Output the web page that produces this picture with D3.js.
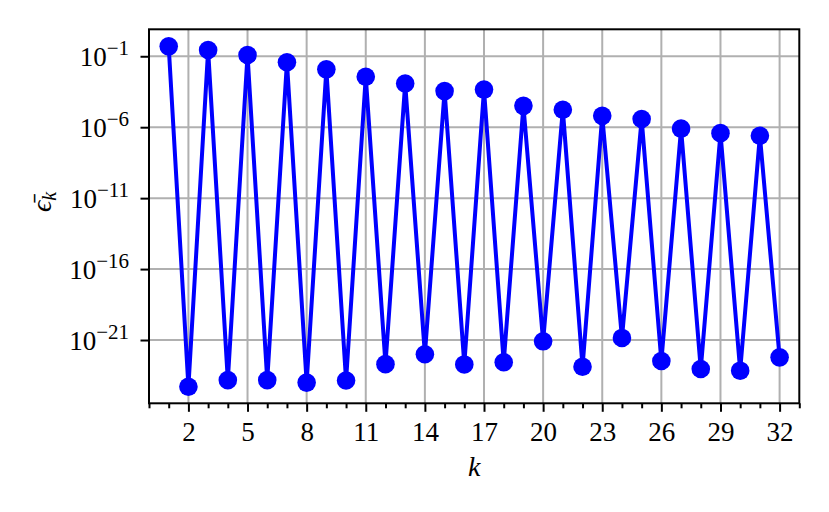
<!DOCTYPE html>
<html>
<head>
<meta charset="utf-8">
<script src="https://cdn.jsdelivr.net/npm/d3@7"></script>
<style>
  body { margin: 0; background: #fff; }
  svg text { font-family: "Liberation Serif", "DejaVu Serif", serif; fill: #000; }
</style>
</head>
<body>
<svg id="chart" width="829" height="512"></svg>
<script>
// k = 1 .. 32, mean error per step
const ks = d3.range(1, 33);
const errors = [
	5.0e-1, 5.1e-25, 2.75e-1, 1.5e-24, 1.23e-1, 1.5e-24, 3.8e-2, 1.0e-24,
	1.2e-2, 1.4e-24, 3.6e-3, 2.0e-23, 1.2e-3, 1.0e-22, 3.5e-4, 1.9e-23,
	4.5e-4, 2.7e-23, 3.2e-5, 8.1e-22, 1.7e-5, 1.3e-23, 6.3e-6, 1.4e-21,
	3.8e-6, 3.3e-23, 7.9e-7, 9.1e-24, 3.8e-7, 6.9e-24, 2.5e-7, 6.0e-23
];
const xTicks = [2, 5, 8, 11, 14, 17, 20, 23, 26, 29, 32];
const xMinorTicks = d3.range(0, 34).filter(k => !xTicks.includes(k));
const yTickExps = [-1, -6, -11, -16, -21];

const svg = d3.select("#chart");
const mLeft = 149, mRight = 799.3, mTop = 29.3, mBottom = 403.3;

const x = d3.scaleLinear().domain([0, 33]).range([mLeft, mRight]);
const y = d3.scaleLog().domain([Math.pow(10, -25.46), Math.pow(10, 0.9)]).range([mBottom, mTop]);

//grid
const grid = svg.append("g").attr("stroke", "#b0b0b0").attr("stroke-width", 2);
grid.selectAll("line.v").data(xTicks).enter().append("line")
	.attr("x1", d => x(d)).attr("x2", d => x(d))
	.attr("y1", mTop).attr("y2", mBottom);
grid.selectAll("line.h").data(yTickExps).enter().append("line")
	.attr("x1", mLeft).attr("x2", mRight)
	.attr("y1", d => y(Math.pow(10, d))).attr("y2", d => y(Math.pow(10, d)));

//axes
const xAxis = svg.append("g")
	.attr("transform", `translate(0,${mBottom})`)
	.call(d3.axisBottom(x).tickValues(xTicks).tickSize(8.5).tickPadding(8).tickSizeOuter(0));
svg.append("g")
	.attr("transform", `translate(0,${mBottom})`)
	.call(d3.axisBottom(x).tickValues(xMinorTicks).tickSize(5).tickFormat("").tickSizeOuter(0))
	.call(g => g.select(".domain").remove());

const yAxis = svg.append("g")
	.attr("transform", `translate(${mLeft},0)`)
	.call(d3.axisLeft(y).tickValues(yTickExps.map(e => Math.pow(10, e))).tickSize(8.5).tickFormat("").tickSizeOuter(0));

svg.selectAll(".tick line").attr("stroke", "#000").attr("stroke-width", 2);
xAxis.selectAll(".tick text")
	.style("font-size", "27px")
	.attr("dy", "0.78em");

//y tick labels as 10^e
const ylab = svg.append("g").selectAll("text").data(yTickExps).enter().append("text")
	.attr("x", 129)
	.attr("y", d => y(Math.pow(10, d)) + 9.5)
	.attr("text-anchor", "end")
	.style("font-size", "27px");
ylab.append("tspan").text("10");
ylab.append("tspan").attr("dy", -11).style("font-size", "21px").text(d => "\u2212" + (-d));

//line + markers
const pts = ks.map((k, i) => [k, errors[i]]);
svg.append("path")
	.datum(pts)
	.attr("fill", "none")
	.attr("stroke", "#0000ff")
	.attr("stroke-width", 4)
	.attr("stroke-linejoin", "round")
	.attr("d", d3.line().x(d => x(d[0])).y(d => y(d[1])));

svg.append("g").selectAll("circle").data(pts).enter().append("circle")
	.attr("cx", d => x(d[0]))
	.attr("cy", d => y(d[1]))
	.attr("r", 9.3)
	.attr("fill", "#0000ff");

//frame
svg.append("rect")
	.attr("x", mLeft).attr("y", mTop)
	.attr("width", mRight - mLeft).attr("height", mBottom - mTop)
	.attr("fill", "none").attr("stroke", "#000").attr("stroke-width", 2);
svg.selectAll(".domain").remove();

//labels
svg.append("text")
	.attr("x", x(16.5)).attr("y", 476)
	.attr("text-anchor", "middle")
	.style("font-size", "28px")
	.attr("font-style", "italic")
	.text("k");

const yl = svg.append("text")
	.attr("transform", "translate(51,202) rotate(-90)")
	.attr("text-anchor", "middle")
	.style("font-size", "28px")
	.attr("font-style", "italic");
yl.append("tspan").text("\u03f5\u0304");
yl.append("tspan").attr("dy", 5).style("font-size", "20px").text("k");
</script>
</body>
</html>
